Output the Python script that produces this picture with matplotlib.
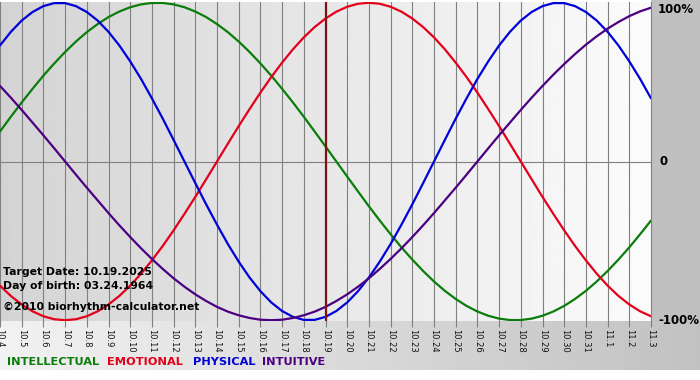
import numpy as np
import matplotlib
matplotlib.use("Agg")
import matplotlib.pyplot as plt

# day labels along the bottom (10.4 .. 11.3)
days = ["10.4", "10.5", "10.6", "10.7", "10.8", "10.9", "10.10", "10.11", "10.12",
        "10.13", "10.14", "10.15", "10.16", "10.17", "10.18", "10.19", "10.20",
        "10.21", "10.22", "10.23", "10.24", "10.25", "10.26", "10.27", "10.28",
        "10.29", "10.30", "10.31", "11.1", "11.2", "11.3"]
target_day = "10.19"

# cycle values in percent, sampled every half day
intellectual = [18.9, 28.2, 37.2, 45.8, 54.1, 61.8, 69.0, 75.6, 81.5, 86.6, 91.0, 94.5, 97.2, 99.0,
                99.9, 99.9, 99.0, 97.2, 94.5, 91.0, 86.6, 81.5, 75.6, 69.0, 61.8, 54.1, 45.8, 37.2,
                28.2, 18.9, 9.5, 0.0, -9.5, -18.9, -28.2, -37.2, -45.8, -54.1, -61.8, -69.0, -75.6,
                -81.5, -86.6, -91.0, -94.5, -97.2, -99.0, -99.9, -99.9, -99.0, -97.2, -94.5, -91.0,
                -86.6, -81.5, -75.6, -69.0, -61.8, -54.1, -45.8, -37.2]
emotional = [-78.2, -84.7, -90.1, -94.4, -97.5, -99.4, -100.0, -99.4, -97.5, -94.4, -90.1, -84.7,
             -78.2, -70.7, -62.3, -53.2, -43.4, -33.0, -22.3, -11.2, 0.0, 11.2, 22.3, 33.0, 43.4,
             53.2, 62.3, 70.7, 78.2, 84.7, 90.1, 94.4, 97.5, 99.4, 100.0, 99.4, 97.5, 94.4, 90.1,
             84.7, 78.2, 70.7, 62.3, 53.2, 43.4, 33.0, 22.3, 11.2, 0.0, -11.2, -22.3, -33.0, -43.4,
             -53.2, -62.3, -70.7, -78.2, -84.7, -90.1, -94.4, -97.5]
physical = [73.1, 81.7, 88.8, 94.2, 97.9, 99.8, 99.8, 97.9, 94.2, 88.8, 81.7, 73.1, 63.1, 52.0,
            39.8, 27.0, 13.6, 0.0, -13.6, -27.0, -39.8, -52.0, -63.1, -73.1, -81.7, -88.8, -94.2,
            -97.9, -99.8, -99.8, -97.9, -94.2, -88.8, -81.7, -73.1, -63.1, -52.0, -39.8, -27.0,
            -13.6, 0.0, 13.6, 27.0, 39.8, 52.0, 63.1, 73.1, 81.7, 88.8, 94.2, 97.9, 99.8, 99.8,
            97.9, 94.2, 88.8, 81.7, 73.1, 63.1, 52.0, 39.8]
intuitive = [47.6, 40.2, 32.5, 24.5, 16.5, 8.3, 0.0, -8.3, -16.5, -24.5, -32.5, -40.2, -47.6, -54.7,
             -61.4, -67.7, -73.6, -78.9, -83.7, -87.9, -91.6, -94.6, -96.9, -98.6, -99.7, -100.0,
             -99.7, -98.6, -96.9, -94.6, -91.6, -87.9, -83.7, -78.9, -73.6, -67.7, -61.4, -54.7,
             -47.6, -40.2, -32.5, -24.5, -16.5, -8.3, 0.0, 8.3, 16.5, 24.5, 32.5, 40.2, 47.6, 54.7,
             61.4, 67.7, 73.6, 78.9, 83.7, 87.9, 91.6, 94.6, 96.9]

series = [("INTELLECTUAL", intellectual, "#0a7d0a"),
          ("EMOTIONAL", emotional, "#e3001b"),
          ("PHYSICAL", physical, "#0000d8"),
          ("INTUITIVE", intuitive, "#4b0082")]

W, H = 700, 380
fig = plt.figure(figsize=(W / 100, H / 100), dpi=100)

# figure background: grey right margin, gradient strip under the plot, white footer
bg = np.ones((H, W, 3))
bg[:, 651:, :] = 0.753
strip = np.linspace(0.95, 0.76, W)
bg[321:370, :, :] = strip[None, :, None]
bg[370:, :, :] = 1.0
bga = fig.add_axes([0, 0, 1, 1], zorder=-10)
bga.imshow(bg, aspect="auto", interpolation="nearest")
bga.axis("off")

ax = fig.add_axes([0, 1 - 321 / H, 651 / W, 319 / H])
n = len(days)
x = np.arange(len(intellectual)) * (n - 1) / (len(intellectual) - 1)

# plot area gradient
grad = np.linspace(0.83, 0.985, 256)[None, :]
ax.imshow(grad, extent=[0, n - 1, -1.02, 1.02], aspect="auto", cmap="gray",
          vmin=0, vmax=1, zorder=0)

for i in range(n):
    ax.axvline(i, color="#808080", lw=0.8, zorder=1, clip_on=False)
ax.axhline(0, color="#808080", lw=0.8, zorder=1)

for name, vals, col in series:
    ax.plot(x, np.array(vals) / 100, color=col, lw=1.6, zorder=3, solid_capstyle="round")

ax.axvline(days.index(target_day), color="#7a1515", lw=1.6, zorder=4)

ax.set_xlim(0, n - 1)
ax.set_ylim(-1.005, 1.005)
for s in ax.spines.values():
    s.set_visible(False)
ax.set_xticks(np.arange(n))
ax.set_xticklabels(days, rotation=-90, fontsize=6, color="#111111")
ax.tick_params(axis="x", length=4, width=0.8, color="#808080", pad=1.5)
ax.set_yticks([])

# right-hand percentage labels
off = 7 / 651
ytr = ax.get_yaxis_transform()
ax.text(1 + off, 1, "100%", transform=ytr, ha="left", va="top",
        fontsize=8.5, fontweight="bold", clip_on=False)
ax.text(1 + off + 0.002, 0, "0", transform=ytr, ha="left", va="center",
        fontsize=8.5, fontweight="bold", clip_on=False)
ax.text(1 + off, -1, "-100%", transform=ytr, ha="left", va="center",
        fontsize=8.5, fontweight="bold", clip_on=False)

# info text on the chart
info = ["Target Date: 10.19.2025", "Day of birth: 03.24.1964"]
fig.text(3 / W, 1 - 272 / H, info[0], fontsize=7.8, fontweight="bold", va="center")
fig.text(3 / W, 1 - 286 / H, info[1], fontsize=7.8, fontweight="bold", va="center")
fig.text(3 / W, 1 - 307 / H, "©2010 biorhythm-calculator.net", fontsize=7.8,
         fontweight="bold", va="center")

# coloured legend along the bottom
legend_x = [7, 107, 193, 262]
for (name, vals, col), lx in zip(series, legend_x):
    fig.text(lx / W, 1 - 362 / H, name, color=col, fontsize=8.2,
             fontweight="bold", va="center")

fig.savefig("out.png", dpi=100)
